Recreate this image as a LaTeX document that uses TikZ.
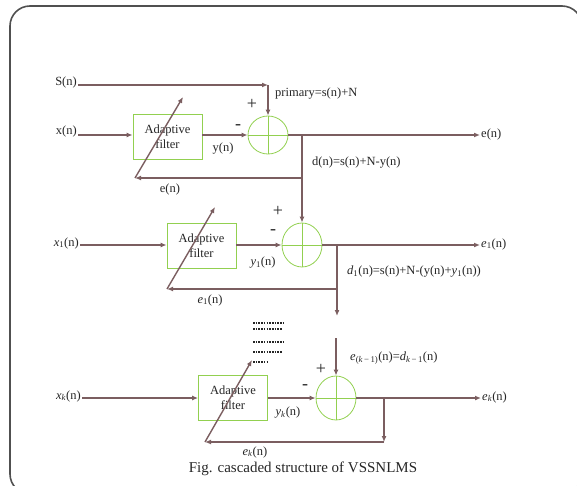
\documentclass[tikz,border=0pt]{standalone}
\usepackage{amsmath,amssymb}
\usepackage{fontspec}
\setmainfont{Liberation Serif}
\usepackage{tikz}
\usetikzlibrary{arrows.meta,positioning,calc,shapes.geometric}
\definecolor{cLine}{HTML}{7B5E60}
\definecolor{cGrn} {HTML}{92D050}
\definecolor{cFrm} {HTML}{505050}
\definecolor{cTxt} {HTML}{262626}
% italic symbol with a subscript, set in the text font
\newcommand{\sy}[2]{\textit{#1}\textsubscript{#2}}
\tikzset{
  filt/.style  ={draw=cGrn,thick,fill=white,align=center,minimum width=69pt,
                 minimum height=45pt,inner sep=1pt,font=\fontsize{12.5}{15}\selectfont,text=cTxt},
  summ/.style  ={draw=cGrn,thick,ellipse,minimum width=40pt,minimum height=44pt,inner sep=0pt,
                 path picture={\draw[cGrn,thick]
                   (path picture bounding box.north) -- (path picture bounding box.south)
                   (path picture bounding box.west) -- (path picture bounding box.east);}},
  lbl/.style   ={font=\fontsize{12.5}{15}\selectfont,text=cTxt,inner sep=1pt},
  sgn/.style   ={font=\fontsize{18}{20}\selectfont,text=cTxt,inner sep=0pt},
  sig/.style   ={-{Latex[length=6pt,width=5pt]},draw=cLine,line width=1.5pt},
  wire/.style  ={draw=cLine,line width=1.5pt},
  tune/.style  ={-{Latex[length=6pt,width=5pt]},draw=cLine,line width=1.4pt},
  dots/.style  ={draw=cTxt,line width=1.1pt,dash pattern=on 1.6pt off 1.1pt},
}

\begin{document}
\begin{tikzpicture}[x=1pt, y=-1pt]
\clip (0,0) rectangle (577,486);
\draw[cFrm,line width=1.6pt,rounded corners=20pt] (10,6) rectangle (582,494);

% stage 1
\node[filt] (flt1) at (167.5,136.5) {Adaptive\\filter};
\node[summ,minimum height=38pt] (sum1) at (268,135) {};
\node[lbl,anchor=east] (sin)  at (78,82)  {S(n)};
\node[lbl,anchor=east] (xin1) at (78,131) {x(n)};
\node[lbl,anchor=west] (eo1)  at (480,134) {e(n)};
\coordinate (s1) at (268,85);
\coordinate (t1) at (302,135);
\coordinate (b1) at (302,178);
\coordinate (fb1) at (135,178);
\draw[sig] (sin.east |- s1) -- (s1);
\draw[sig] (s1) -- (sum1.north);
\draw[sig] (xin1.east |- t1) -- (flt1.west |- t1);
\draw[sig] (flt1.east |- t1) -- (sum1.west);
\draw[sig] (sum1.east) -- (eo1.west |- t1);
\draw[wire] (t1) -- (b1);
\draw[sig] (b1) -- (fb1);
\draw[tune] (fb1) -- (183,97);
\node[sgn] at (252,104) {+};
\node[sgn] at (238,127) {-};
\node[lbl] at (223,149) {y(n)};
\node[lbl] at (170,189) {e(n)};
\node[lbl,anchor=west] at (274,94) {primary=s(n)+N};
\node[lbl,anchor=west] at (311,163) {d(n)=s(n)+N-y(n)};

% stage 2
\node[filt] (flt2) at (201.5,245.5) {Adaptive\\filter};
\node[summ] (sum2) at (302,245) {};
\node[lbl,anchor=east] (xin2) at (80,243) {\sy{x}{1}(n)};
\node[lbl,anchor=west] (eo2)  at (480,244) {\sy{e}{1}(n)};
\coordinate (t2) at (337,245);
\coordinate (b2) at (337,289);
\coordinate (fb2) at (167,289);
\coordinate (dn2) at (337,316);
\draw[sig] (b1) -- (sum2.north);
\draw[sig] (xin2.east |- t2) -- (flt2.west |- t2);
\draw[sig] (flt2.east |- t2) -- (sum2.west);
\draw[sig] (sum2.east) -- (eo2.west |- t2);
\draw[wire] (t2) -- (b2);
\draw[sig] (b2) -- (fb2);
\draw[sig] (b2) -- (dn2);
\draw[tune] (fb2) -- (215,207);
\node[sgn] at (278,211) {+};
\node[sgn] at (273,232) {-};
\node[lbl] at (263,263) {\sy{y}{1}(n)};
\node[lbl] at (210,300) {\sy{e}{1}(n)};
\node[lbl,anchor=west] at (346,272) {\sy{d}{1}(n)=s(n)+N-(y(n)+\sy{y}{1}(n))};

% gap between stage 2 and stage k
\foreach \yy/\xe in {323/285,329/282,342/285,352/282,362/267}
  \draw[dots] (253,\yy) -- (\xe,\yy);

% stage k
\node[filt] (flt3) at (233,397.5) {Adaptive\\filter};
\node[summ] (sum3) at (336,398) {};
\node[lbl,anchor=east] (xin3) at (82,396) {\sy{x}{\textit{k}}(n)};
\node[lbl,anchor=west] (eo3)  at (481,397) {\sy{e}{\textit{k}}(n)};
\coordinate (up3) at (336,338);
\coordinate (t3) at (384,398);
\coordinate (b3) at (384,442);
\coordinate (fb3) at (205,442);
\draw[sig] (up3) -- (sum3.north);
\draw[sig] (xin3.east |- t3) -- (flt3.west |- t3);
\draw[sig] (flt3.east |- t3) -- (sum3.west);
\draw[sig] (sum3.east) -- (eo3.west |- t3);
\draw[sig] (t3) -- (b3);
\draw[sig] (b3) -- (fb3);
\draw[tune] (fb3) -- (252,360);
\node[sgn] at (321,369) {+};
\node[sgn] at (305,387) {-};
\node[lbl] at (288,413) {\sy{y}{\textit{k}}(n)};
\node[lbl] at (255,452) {\sy{e}{\textit{k}}(n)};
\node[lbl,anchor=west] at (349,358)
  {\sy{e}{(\textit{k}\,−\,1)}(n)=\sy{d}{\textit{k}\,−\,1}(n)};

\node[font=\fontsize{15}{17}\selectfont,text=cTxt] (cap) at (303,469)
  {Fig. cascaded structure of VSSNLMS};
\end{tikzpicture}
\end{document}
